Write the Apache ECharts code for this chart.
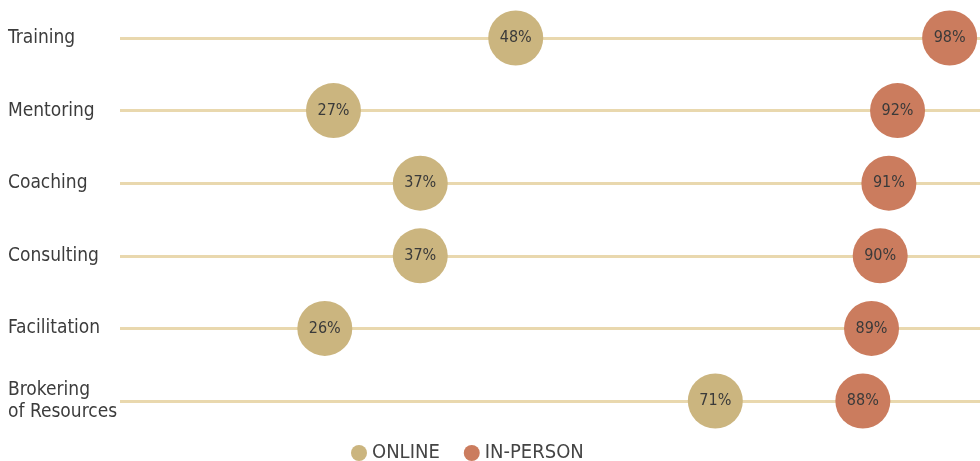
<!DOCTYPE html>
<html>
<head>
<meta charset="utf-8">
<script src="https://cdn.jsdelivr.net/npm/echarts@6/dist/echarts.min.js"></script>
<style>
html,body{margin:0;padding:0;background:#fff;}
#chart{width:980px;height:461px;}
</style>
</head>
<body>
<div id="chart"></div>
<script>
var categories = ['Training', 'Mentoring', 'Coaching', 'Consulting', 'Facilitation', 'Brokering\nof Resources'];
var online = [48, 27, 37, 37, 26, 71];
var inPerson = [98, 92, 91, 90, 89, 88];

var FONT = "'Liberation Sans Narrow', 'DejaVu Sans Condensed', 'Roboto Condensed', sans-serif";
var myChart = echarts.init(document.getElementById('chart'));

function dots(name, values, color) {
    return {
        name: name,
        type: 'scatter',
        symbol: 'circle',
        symbolSize: 55,
        itemStyle: {color: color, opacity: 1},
        label: {
            show: true,
            position: 'inside',
            formatter: '{@[0]}%',
            color: '#3a3a3a',
            fontSize: 16,
            fontFamily: FONT
        },
        data: values.map(function (v, i) { return [v, i]; }),
        z: 3
    };
}

option = {
    animation: false,
    grid: {left: 120, right: 0, top: 38, bottom: 60},
    legend: {
        top: 443,
        left: 351,
        padding: 0,
        icon: 'circle',
        itemWidth: 16,
        itemHeight: 16,
        itemGap: 24,
        textStyle: {fontSize: 20, color: '#444', fontFamily: FONT},
        data: ['ONLINE', 'IN-PERSON']
    },
    xAxis: {
        type: 'value',
        min: 2.4,
        max: 101.5,
        show: false
    },
    yAxis: {
        type: 'category',
        inverse: true,
        boundaryGap: false,
        data: categories,
        axisLine: {show: false},
        axisTick: {show: false},
        splitLine: {show: true, lineStyle: {color: '#E9D8AE', width: 3}},
        axisLabel: {
            align: 'left',
            margin: 112,
            fontSize: 19,
            lineHeight: 22,
            color: '#3c3c3c',
            fontFamily: FONT
        }
    },
    series: [
        dots('ONLINE', online, '#CBB57F'),
        dots('IN-PERSON', inPerson, '#CB7C5E')
    ]
};

myChart.setOption(option);
</script>
</body>
</html>
